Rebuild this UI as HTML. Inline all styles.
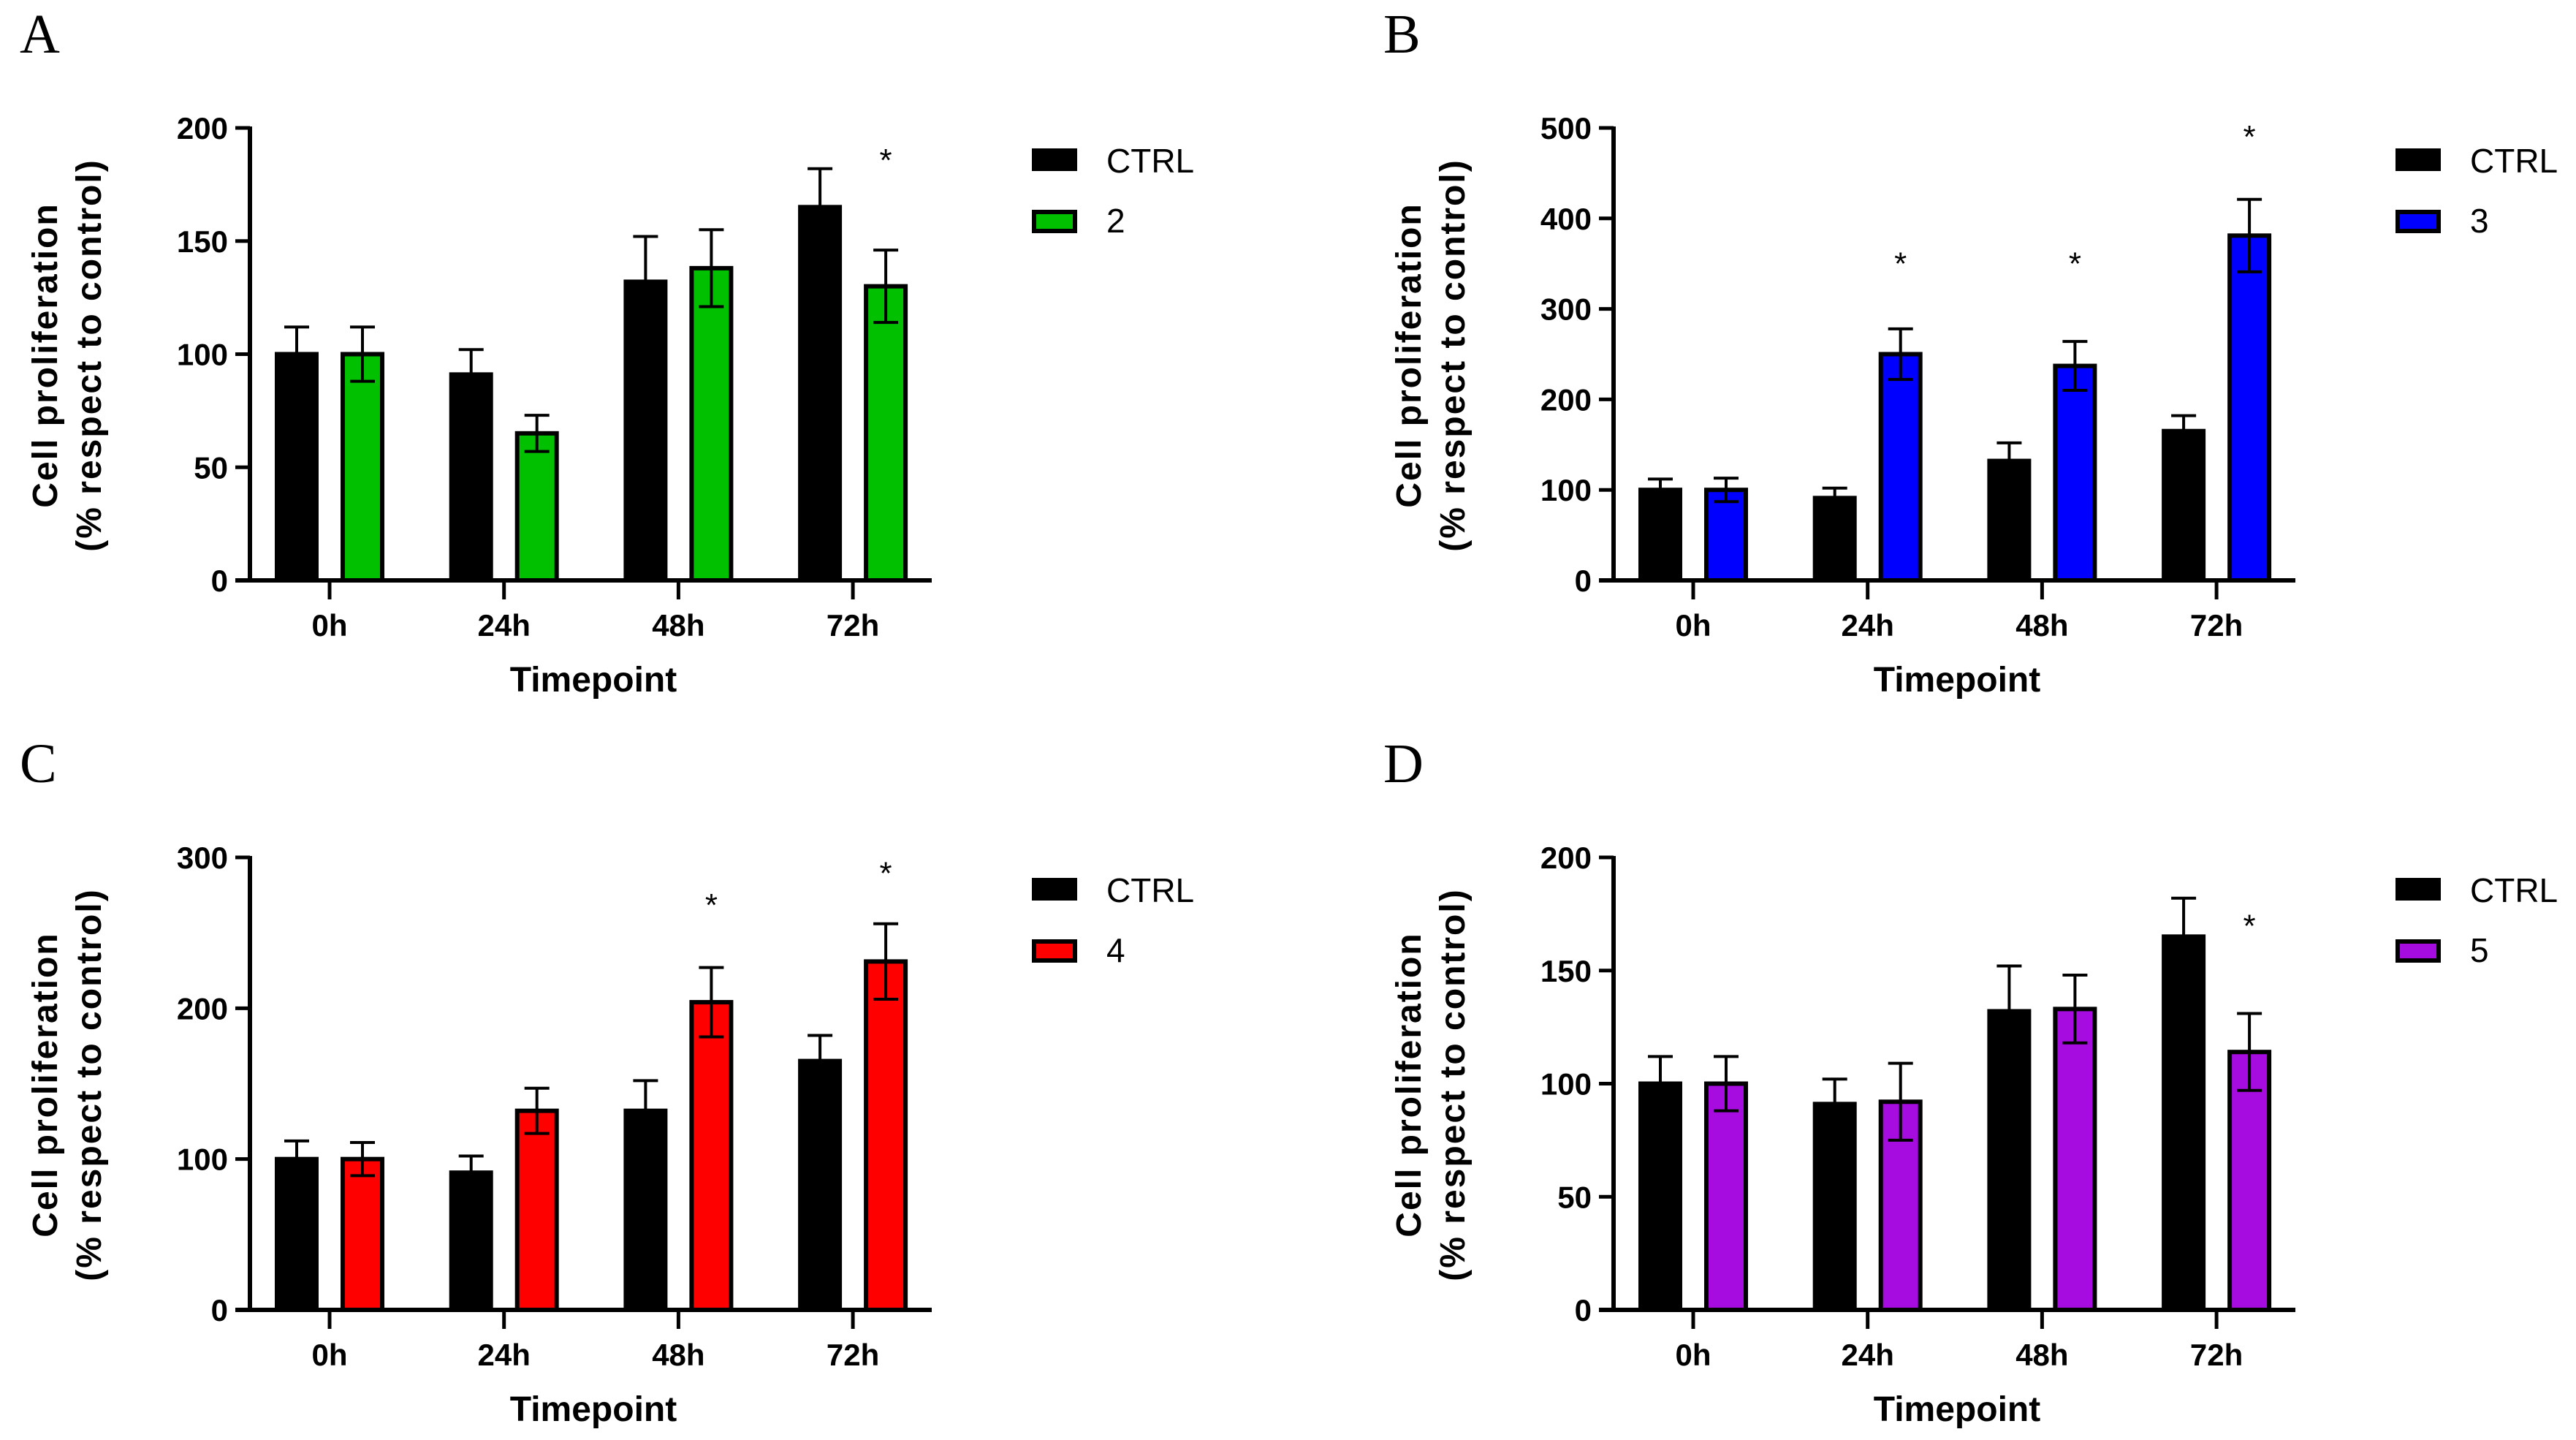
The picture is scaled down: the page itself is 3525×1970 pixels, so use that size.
<!DOCTYPE html>
<html><head><meta charset="utf-8"><style>
html,body{margin:0;padding:0;background:#fff;}
svg{display:block;}
text{font-family:"Liberation Sans",sans-serif;}
text.letter{font-family:"Liberation Serif",serif;}
</style></head><body>
<svg id="fig" width="3525" height="1970" viewBox="0 0 3525 1970" xmlns="http://www.w3.org/2000/svg"></svg>
<script>
const categories = ["0h","24h","48h","72h"];
const ctrlValues = [100, 91, 132, 165];
const ctrlErrors = [12, 11, 20, 17];
const aValues = [100, 65, 138, 130];
const aErrors = [12, 8, 17, 16];
const bValues = [100, 250, 237, 381];
const bErrors = [13, 28, 27, 40];
const cValues = [100, 132, 204, 231];
const cErrors = [11, 15, 23, 25];
const dValues = [100, 92, 133, 114];
const dErrors = [12, 17, 15, 17];
const aTicks = [0, 50, 100, 150, 200];
const bTicks = [0, 100, 200, 300, 400, 500];
const cTicks = [0, 100, 200, 300];
const dTicks = [0, 50, 100, 150, 200];
const aStars = [null, null, null, 188];
const bStars = [null, 356, 356, 496];
const cStars = [null, null, 272, 293];
const dStars = [null, null, null, 172];

const NS = "http://www.w3.org/2000/svg";
const svg = document.getElementById("fig");
function mk(tag, attrs, parent, txt){
  const e = document.createElementNS(NS, tag);
  for (const k in attrs) e.setAttribute(k, attrs[k]);
  if (txt !== undefined) e.textContent = txt;
  (parent || svg).appendChild(e);
  return e;
}

function panel(letter, ox, oy, vals, errs, ticks, stars, color, legLabel){
  const g = mk("g", {});
  
  
  const axX = 342 + ox, y0 = 794 + oy, yTop = 175 + oy;
  const ymax = ticks[ticks.length - 1];
  const yS = v => y0 - (v / ymax) * (y0 - yTop);
  const xC = i => 451 + ox + i * 238.7;
  const bw = 54;

  const lt = mk("text", {class: "letter", x: 27 + ox, y: 72 + oy, "font-size": 76}, g, letter);
  
  

  for (let i = 0; i < categories.length; i++){
    const cx1 = xC(i) - 45, cx2 = xC(i) + 45;
    const b1 = mk("rect", {x: cx1 - bw/2, y: yS(ctrlValues[i]), width: bw, height: y0 - yS(ctrlValues[i]), fill: "#000", stroke: "#000", "stroke-width": 6}, g);
    
    
    const e1 = mk("path", {d: `M${cx1} ${yS(ctrlValues[i])} V${yS(ctrlValues[i]+ctrlErrors[i])} M${cx1-17} ${yS(ctrlValues[i]+ctrlErrors[i])} H${cx1+17}`, stroke: "#000", "stroke-width": 4, fill: "none"}, g);
    
    
    const b2 = mk("rect", {x: cx2 - bw/2, y: yS(vals[i]), width: bw, height: y0 - yS(vals[i]), fill: color, stroke: "#000", "stroke-width": 6}, g);
    
    
    const lo = yS(vals[i]-errs[i]), hi = yS(vals[i]+errs[i]);
    const e2 = mk("path", {d: `M${cx2} ${lo} V${hi} M${cx2-17} ${hi} H${cx2+17} M${cx2-17} ${lo} H${cx2+17}`, stroke: "#000", "stroke-width": 4, fill: "none"}, g);
    
    
    if (stars[i] !== null){
      const s = mk("text", {x: cx2, y: yS(stars[i]) + 22, "text-anchor": "middle", "font-size": 44}, g, "*");
      
      
    }
    const tk = mk("line", {x1: xC(i), x2: xC(i), y1: y0, y2: y0 + 26, stroke: "#000", "stroke-width": 5}, g);
    
    
    const tl = mk("text", {x: xC(i), y: y0 + 76, "text-anchor": "middle", "font-size": 42, "font-weight": "bold"}, g, categories[i]);
    
    
  }

  const ya = mk("line", {x1: axX, x2: axX, y1: yTop - 2, y2: y0 + 3, stroke: "#000", "stroke-width": 6}, g);
  
  
  const xa = mk("line", {x1: 322 + ox, x2: 1275 + ox, y1: y0, y2: y0, stroke: "#000", "stroke-width": 6}, g);
  
  
  for (const t of ticks){
    const tl = mk("line", {x1: 322 + ox, x2: axX, y1: yS(t), y2: yS(t), stroke: "#000", "stroke-width": 5}, g);
    
    
    const tt = mk("text", {x: 312 + ox, y: yS(t) + 15, "text-anchor": "end", "font-size": 42, "font-weight": "bold"}, g, String(t));
    
    
  }
  const xt = mk("text", {x: 812 + ox, y: 946 + oy, "text-anchor": "middle", "font-size": 48, "font-weight": "bold"}, g, "Timepoint");
  
  
  const yt = mk("text", {transform: `translate(${78 + ox},${486 + oy}) rotate(-90)`, "text-anchor": "middle", "font-size": 48, "font-weight": "bold", "letter-spacing": 2}, g);
  
  
  mk("tspan", {x: 0, y: 0}, yt, "Cell proliferation");
  mk("tspan", {x: 0, y: 60}, yt, "(% respect to control)");

  const l1 = mk("rect", {x: 1412 + ox, y: 203 + oy, width: 62, height: 31, fill: "#000"}, g);
  
  
  const l1t = mk("text", {x: 1514 + ox, y: 236 + oy, "font-size": 46}, g, "CTRL");
  
  
  const l2 = mk("rect", {x: 1415 + ox, y: 290 + oy, width: 56, height: 26, fill: color, stroke: "#000", "stroke-width": 6}, g);
  
  
  const l2t = mk("text", {x: 1514 + ox, y: 318 + oy, "font-size": 46}, g, legLabel);
  
  
}

panel("A", 0, 0, aValues, aErrors, aTicks, aStars, "#00c000", "2");
panel("B", 1866, 0, bValues, bErrors, bTicks, bStars, "#0000ff", "3");
panel("C", 0, 998, cValues, cErrors, cTicks, cStars, "#ff0000", "4");
panel("D", 1866, 998, dValues, dErrors, dTicks, dStars, "#a60ce0", "5");
</script>
</body></html>
